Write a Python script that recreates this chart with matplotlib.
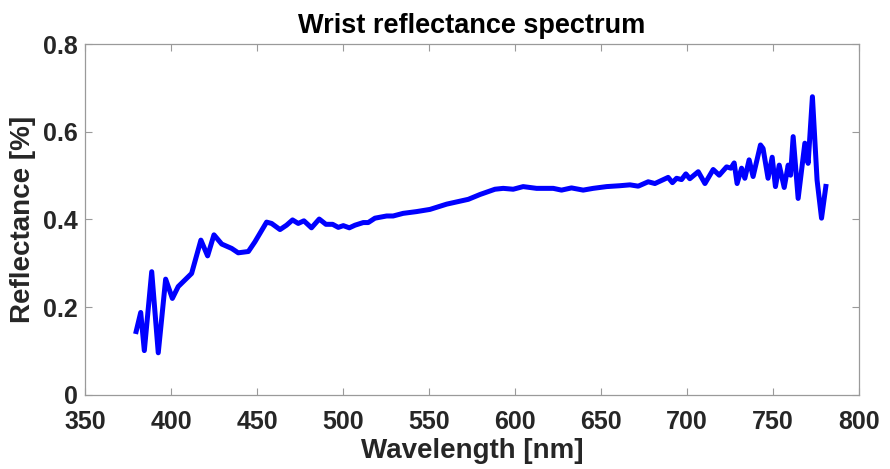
import matplotlib
matplotlib.use('Agg')

import numpy as np
import matplotlib.pyplot as plt

# wavelength [nm] and reflectance
wavelength = [379.4, 382.4, 384.5, 388.8, 392.6, 396.9, 400.8, 404.2, 412.0, 417.4,
              421.3, 425.0, 429.5, 435.3, 439.1, 445.0, 448.8, 455.6, 458.5, 463.4,
              467.2, 470.7, 474.0, 477.3, 481.7, 486.2, 490.1, 494.0, 497.3, 500.2,
              503.7, 507.0, 511.8, 514.7, 518.6, 525.4, 529.2, 535.0, 542.8, 550.6,
              560.3, 572.9, 579.7, 588.4, 593.2, 599.0, 604.8, 612.6, 622.3, 627.1,
              632.9, 639.7, 645.5, 653.3, 661.0, 666.9, 671.7, 677.5, 681.4, 689.1,
              691.6, 694.0, 696.9, 699.4, 701.7, 706.6, 710.5, 715.3, 718.8, 723.1,
              725.6, 727.5, 729.2, 731.8, 733.7, 736.2, 738.5, 742.8, 744.3, 747.2,
              749.6, 751.5, 753.7, 756.6, 758.9, 760.3, 761.8, 764.7, 768.6, 770.5,
              773.0, 775.7, 778.3, 781.0]
reflectance = [0.139, 0.188, 0.101, 0.281, 0.096, 0.264, 0.220, 0.247, 0.277, 0.353,
               0.317, 0.365, 0.344, 0.334, 0.324, 0.327, 0.349, 0.394, 0.391, 0.377,
               0.387, 0.399, 0.391, 0.397, 0.381, 0.401, 0.389, 0.389, 0.382, 0.386,
               0.381, 0.387, 0.393, 0.393, 0.403, 0.408, 0.408, 0.414, 0.418, 0.423,
               0.435, 0.446, 0.457, 0.469, 0.471, 0.469, 0.475, 0.471, 0.471, 0.467,
               0.472, 0.467, 0.471, 0.475, 0.477, 0.479, 0.476, 0.486, 0.482, 0.496,
               0.484, 0.494, 0.491, 0.504, 0.493, 0.509, 0.482, 0.514, 0.501, 0.520,
               0.517, 0.529, 0.482, 0.517, 0.494, 0.536, 0.498, 0.570, 0.562, 0.494,
               0.542, 0.475, 0.524, 0.473, 0.524, 0.501, 0.589, 0.448, 0.574, 0.528,
               0.680, 0.490, 0.403, 0.481]

xticks = [350, 400, 450, 500, 550, 600, 650, 700, 750, 800]
yticks = [0, 0.2, 0.4, 0.6, 0.8]
ytick_labels = ['0', '0.2', '0.4', '0.6', '0.8']

plt.rcParams['font.family'] = ['Liberation Sans', 'DejaVu Sans']
plt.rcParams['font.weight'] = 'bold'

fig = plt.figure(figsize=(8.9, 4.69), dpi=100)
ax = fig.add_axes([0.0955, 0.158, 0.8695, 0.748])

ax.plot(wavelength, reflectance, color='#0000ff', linewidth=3.6,
        solid_joinstyle='round', solid_capstyle='butt')

ax.set_xlim(350, 800)
ax.set_ylim(0, 0.8)
ax.set_xticks(xticks)
ax.set_yticks(yticks)
ax.set_yticklabels(ytick_labels)

ax.tick_params(direction='in', length=5, width=0.8, color='#9a9a9a',
               labelcolor='#262626', labelsize=18, top=True, right=True)
ax.tick_params(axis='x', pad=11)
ax.tick_params(axis='y', pad=5)
for s in ax.spines.values():
    s.set_color('#9a9a9a')
    s.set_linewidth(0.9)

ax.set_title('Wrist reflectance spectrum', fontsize=19.5, fontweight='bold',
             color='black', pad=8)
ax.set_xlabel('Wavelength [nm]', fontsize=20, fontweight='bold', color='#262626',
              labelpad=3)
ax.set_ylabel('Reflectance [%]', fontsize=20, fontweight='bold', color='#262626',
              labelpad=5)

fig.savefig('out.png', dpi=100)
